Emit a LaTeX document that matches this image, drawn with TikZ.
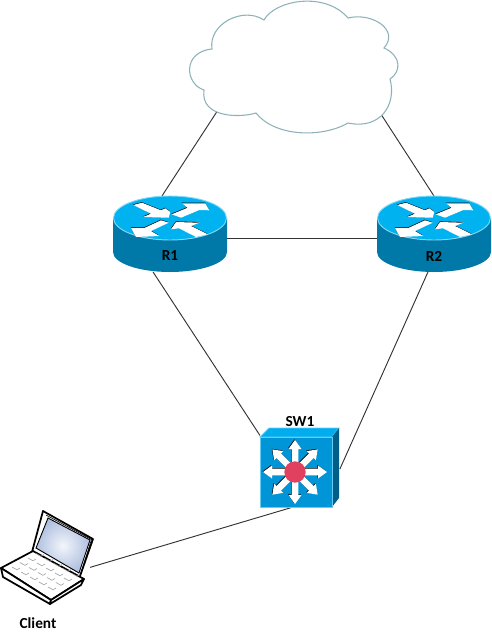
\documentclass[tikz,border=0pt]{standalone}
\usepackage{fontspec}
\setmainfont{Carlito}
\usetikzlibrary{shapes.geometric,positioning,calc}
\definecolor{routertop}{HTML}{00B2F0}
\definecolor{routerside}{HTML}{0079A8}
\definecolor{routerrim}{HTML}{7FD8F8}
\definecolor{swfront}{HTML}{0095D6}
\definecolor{swtop}{HTML}{00AEEF}
\definecolor{swside}{HTML}{005F88}
\definecolor{swrim}{HTML}{66CCF5}
\definecolor{swhub}{HTML}{E2405F}
\definecolor{cloudline}{HTML}{8FB2BA}
\definecolor{screenblue}{HTML}{AFC0E0}
\newcommand{\routerbody}[1]{%
\begin{scope}[shift={(#1)}]
\fill[routerside] (-57,0) -- (-57,34) arc[start angle=180,end angle=0,x radius=57,y radius=20] -- (57,0) -- cycle;
\fill[routertop,draw=routerrim,line width=0.7pt] (0,0) ellipse[x radius=56.5,y radius=22];
\foreach \pts in {
  {(-36.7,-13) -- (-28,-15.3) -- (-9,-7.7) -- (-4.7,-9.7) -- (0.3,-6) -- (-1.3,-0.3) -- (-26.7,-1) -- (-19,-4.3)},
  {(1.7,-3.7) -- (17.7,-10.3) -- (12,-14.7) -- (35.3,-14.7) -- (39.3,-7.7) -- (29.3,-8) -- (11,-0.3)},
  {(-39,10) -- (-25.7,10) -- (-9,2.3) -- (-1.3,4.7) -- (-19,13) -- (-10.7,18) -- (-34,19)},
  {(6,4) -- (29.3,4.7) -- (21,8) -- (37.7,16.3) -- (26,19) -- (9,10.3) -- (1,11.3)}}{
  \fill[black,shift={(-0.3,-0.6)}] \pts -- cycle;
  \fill[white] \pts -- cycle;
}
\end{scope}}
\tikzset{
  devbox/.style={inner sep=0pt,outer sep=0pt,minimum width=#1},
  link/.style={draw=black!80,line width=0.7pt},
  devlabel/.style={inner sep=0pt,font=\bfseries\fontsize{11.5pt}{13pt}\selectfont}
}
\begin{document}
\begin{tikzpicture}[x=0.75pt,y=-0.75pt]
\useasboundingbox (0,0) rectangle (492,633);
\node[devbox=156pt,ellipse,minimum height=99pt] (cloud) at (294,67) {};
\node[devbox=85.5pt,minimum height=57pt] (r1) at (170,234) {};
\node[devbox=85.5pt,minimum height=57pt] (r2) at (434,234) {};
\node[devbox=59.25pt,minimum height=59.25pt] (sw1) at (299.5,467.5) {};
\node[devbox=67.5pt,minimum height=70.5pt] (client) at (45,557) {};

\draw[link] (cloud.210.6) -- (r1.102);
\draw[link] (cloud.-26) -- (r2.90);
\draw[link] (r1.-4) -- (r2.184);
\draw[link] (r1.-114) -- (sw1.141.8);
\draw[link,shorten >=1.5pt] (r2.-99) -- (sw1.-5);
\draw[link] (sw1.-99.4) -- (client.-13.7);

% cloud
\draw[cloudline,fill=white,line width=0.8pt] (264,20) .. controls (275,0) and (325,-9) .. (348,18)
  .. controls (372,12) and (400,30) .. (384,48)
  .. controls (402,56) and (401,72) .. (390,79)
  .. controls (397,105) and (380,130) .. (348,123)
  .. controls (322,138) and (275,137) .. (256,113)
  .. controls (240,118) and (200,118) .. (204,90)
  .. controls (185,84) and (182,52) .. (212,49)
  .. controls (208,24) and (243,6) .. (264,20) -- cycle;

% routers
\routerbody{170,218}
\routerbody{434,218}
\node[devlabel] (r1label) at (170,256) {R1};
\node[devlabel] (r2label) at (434,256) {R2};

% switch
\fill[swtop,draw=swrim,line width=0.6pt] (260,437) -- (269,428) -- (339,428) -- (332,437) -- cycle;
\fill[swside] (332,437) -- (339,428) -- (339,498) -- (332,507) -- cycle;
\fill[swfront,draw=swrim,line width=0.6pt] (260,437) rectangle (332,507);
\foreach \a in {0,45,...,315}{
  \fill[black,shift={(294.4,471.4)},rotate=\a] (8,-3.3) -- (23,-3.3) -- (23,-6.5) -- (32,0) -- (23,6.5) -- (23,3.3) -- (8,3.3) -- cycle;
  \fill[white,shift={(295,472)},rotate=\a] (8,-3.3) -- (23,-3.3) -- (23,-6.5) -- (32,0) -- (23,6.5) -- (23,3.3) -- (8,3.3) -- cycle;
}
\fill[swhub] (295,472) circle[radius=10.7];
\node[devlabel] (sw1label) at (300,422) {SW1};

% laptop
\draw[fill=white,line width=1.3pt,line join=round] (43,511) -- (93,539) -- (79,579) -- (32,552) -- cycle;
\shade[inner color=white!85!screenblue,outer color=screenblue] (48,518) -- (90,540) -- (79,573) -- (36,548) -- cycle;
\draw[line width=0.7pt] (48,518) -- (90,540) -- (79,573) -- (36,548) -- cycle;
\draw[line width=0.5pt] (46,515) -- (91.5,539.5) -- (80,576);
\draw[fill=white,line width=1.3pt,line join=round] (1,568) -- (33,551) -- (84,579) -- (51,600) -- cycle;
\draw[fill=white,line width=1.3pt,line join=round] (1,568) -- (3,577) -- (50,604) -- (51,600) -- cycle;
\draw[fill=white,line width=1.3pt,line join=round] (50,604) -- (81,585) -- (84,579) -- (51,600) -- cycle;
\foreach \i in {0,1,2,3,4}{
  \foreach \j in {0,1,2,3}{
    \draw[black!35,line width=0.5pt] ($(12,567)+(\i*9,\i*5)+(\j*8,-\j*4.5)$) -- ++(5,2.8) -- ++(3,-1.8);
  }
}
\node[devlabel] (clientlabel) at (38,623) {Client};
\end{tikzpicture}
\end{document}
